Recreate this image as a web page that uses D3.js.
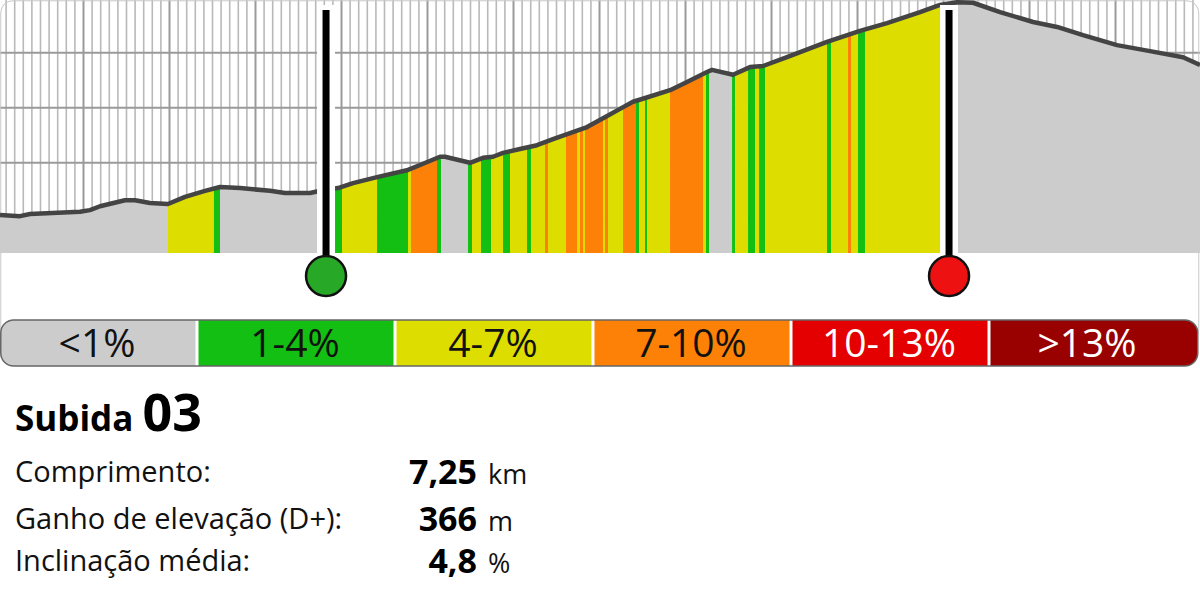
<!DOCTYPE html>
<html>
<head>
<meta charset="utf-8">
<script src="https://cdn.jsdelivr.net/npm/d3@7"></script>
<style>
  html, body { margin: 0; padding: 0; background: #fff; }
  svg { display: block; font-family: 'Open Sans', 'Noto Sans', sans-serif; }
</style>
</head>
<body>
<svg id="chart" width="1200" height="600"></svg>
<script>
'use strict'

// elevation profile, distance in km / elevation in m
const profileKm = [0.035, 0.268, 0.384, 0.965, 1.081, 1.198, 1.488, 1.605, 1.779, 1.988,
  2.186, 2.419, 2.593, 2.826, 3.174, 3.349, 3.640, 3.814, 3.965, 4.140,
  4.419, 4.779, 4.919, 5.151, 5.209, 5.500, 5.651, 5.767, 5.884, 6.081,
  6.279, 6.465, 6.663, 6.861, 7.047, 7.244, 7.395, 7.500, 7.826, 8.023,
  8.256, 8.314, 8.558, 8.756, 8.907, 9.186, 9.651, 10.035, 10.349, 10.733,
  10.965, 11.163, 11.349, 11.663, 12.047, 12.326, 12.628, 13.023, 13.407, 13.791, 13.988]
const profileEle = [604, 602, 606, 610, 613, 620, 631, 631, 626, 624,
  637, 648, 655, 653, 648, 644, 644, 650, 653, 662,
  673, 686, 695, 710, 710, 699, 708, 710, 717, 724,
  731, 742, 753, 764, 780, 797, 810, 815, 831, 846,
  864, 868, 859, 873, 875, 891, 919, 939, 953, 973,
  986, 991, 990, 973, 955, 946, 931, 913, 902, 891, 877]

// gradient stripes: start km and gradient class (index into legend)
const segStartKm = [0.035, 1.988, 2.523, 2.593, 3.814, 4.012, 4.419, 4.779, 4.814, 5.116,
  5.163, 5.477, 5.523, 5.628, 5.744, 5.884, 5.965, 6.163, 6.209, 6.372,
  6.407, 6.616, 6.744, 6.779, 6.814, 6.837, 7.047, 7.070, 7.105, 7.279,
  7.430, 7.465, 7.535, 7.558, 7.826, 8.209, 8.244, 8.279, 8.547, 8.582,
  8.733, 8.814, 8.861, 8.930, 9.651, 9.698, 9.895, 9.930, 10.012, 10.093, 11.070]
const segClass = [0, 2, 1, 0, 1, 2, 1, 2, 3, 1,
  0, 1, 2, 1, 2, 1, 2, 1, 2, 3,
  2, 3, 2, 3, 2, 3, 2, 3, 2, 3,
  1, 2, 1, 2, 3, 2, 1, 0, 1, 2,
  1, 2, 1, 2, 1, 2, 3, 2, 1, 2, 0]

const climbStartKm = 3.826
const climbEndKm = 11.07

const legendLabels = ['<1%', '1-4%', '4-7%', '7-10%', '10-13%', '>13%']
const legendColors = ['#cccccc', '#12bf12', '#dedd00', '#fc8106', '#e40000', '#990000']
const legendText = ['#111', '#111', '#111', '#111', '#fff', '#fff']

const climbName = 'Subida'
const climbNumber = '03'
const statLabels = ['Comprimento:', 'Ganho de elevação (D+):', 'Inclinação média:']
const statValues = ['7,25', '366', '4,8']
const statUnits = ['km', 'm', '%']

const W = 1200
const chartBottom = 253

const svg = d3.select('#chart')

const x = d3.scaleLinear().domain([0.035, 13.988]).range([0, W])
const y = d3.scaleLinear().domain([535, 995]).range([chartBottom, 0])

const pts = profileKm.map((d, i) => [d, profileEle[i]])

// grid
const grid = svg.append('g')
grid.append('g')
  .call(d3.axisTop(x).tickValues(d3.range(1, 140).map(d => d / 10)).tickSize(-chartBottom).tickFormat(''))
  .call(g => g.select('.domain').remove())
  .call(g => g.selectAll('line')
    .attr('stroke', d => Math.abs(d - Math.round(d)) < 1e-6 ? '#9a9a9a' : '#b9b9b9')
    .attr('stroke-width', d => Math.abs(d - Math.round(d)) < 1e-6 ? 2 : 1.6))
grid.append('g')
  .call(d3.axisLeft(y).tickValues([600, 700, 800, 900]).tickSize(-W).tickFormat(''))
  .call(g => g.select('.domain').remove())
  .call(g => g.selectAll('line').attr('stroke', '#9a9a9a').attr('stroke-width', 2))

// card border
svg.append('rect')
  .attr('x', 0.75).attr('y', 0.75).attr('width', W - 2).attr('height', 340)
  .attr('rx', 12).attr('fill', 'none').attr('stroke', '#c8c8c8').attr('stroke-width', 1)

// area clip + stripes
const area = d3.area().x(d => x(d[0])).y0(chartBottom).y1(d => y(d[1]))
svg.append('clipPath').attr('id', 'profile-clip')
  .append('path').attr('d', area(pts))

const segs = segStartKm.map((s, i) => ({
  start: s,
  end: i < segStartKm.length - 1 ? segStartKm[i + 1] : x.domain()[1],
  cls: segClass[i]
}))

svg.append('g').attr('clip-path', 'url(#profile-clip)')
  .selectAll('rect')
  .data(segs)
  .enter()
  .append('rect')
    .attr('x', d => x(d.start))
    .attr('width', d => x(d.end) - x(d.start) + 0.3)
    .attr('y', 0)
    .attr('height', chartBottom)
    .attr('fill', d => legendColors[d.cls])

const line = d3.line().x(d => x(d[0])).y(d => y(d[1]))
svg.append('path')
  .attr('d', line(pts))
  .attr('fill', 'none')
  .attr('stroke', '#444')
  .attr('stroke-width', 4.5)
  .attr('stroke-linejoin', 'round')

// start / end markers
const markers = [
  { km: climbStartKm, color: '#27a827' },
  { km: climbEndKm, color: '#ee1111' }
]
const m = svg.append('g').selectAll('g')
  .data(markers)
  .enter()
  .append('g')
    .attr('transform', d => `translate(${x(d.km)},0)`)
m.append('rect')
  .attr('x', -9).attr('y', 5).attr('width', 18).attr('height', chartBottom - 5)
  .attr('fill', '#fff')
m.append('rect')
  .attr('x', -3.5).attr('y', 10).attr('width', 7).attr('height', 260)
  .attr('fill', '#000')
m.append('circle')
  .attr('cy', 276).attr('r', 20)
  .attr('fill', d => d.color)
  .attr('stroke', '#111').attr('stroke-width', 2.5)

// legend
const legY = 320
const legH = 46
const lx = d3.scaleBand().domain(legendLabels).range([0, 1188])
svg.append('clipPath').attr('id', 'leg-clip')
  .append('rect').attr('x', 0.75).attr('y', legY).attr('width', 1197).attr('height', legH).attr('rx', 13)
const leg = svg.append('g')
leg.append('g').attr('clip-path', 'url(#leg-clip)')
  .selectAll('rect')
  .data(legendLabels)
  .enter()
  .append('rect')
    .attr('x', d => lx(d))
    .attr('y', legY)
    .attr('width', (d, i) => i === legendLabels.length - 1 ? W - lx(d) : lx.bandwidth())
    .attr('height', legH)
    .attr('fill', (d, i) => legendColors[i])
leg.selectAll('line.sep')
  .data(legendLabels.slice(1))
  .enter()
  .append('line')
    .attr('class', 'sep')
    .attr('x1', d => lx(d) - 1).attr('x2', d => lx(d) - 1)
    .attr('y1', legY).attr('y2', legY + legH)
    .attr('stroke', '#fff').attr('stroke-width', 3)
leg.append('rect')
  .attr('x', 0.75).attr('y', legY).attr('width', 1197).attr('height', legH).attr('rx', 13)
  .attr('fill', 'none').attr('stroke', '#666').attr('stroke-width', 1.5)
leg.selectAll('text')
  .data(legendLabels)
  .enter()
  .append('text')
    .attr('x', d => lx(d) + lx.bandwidth() / 2 - 2)
    .attr('y', legY + 37)
    .attr('text-anchor', 'middle')
    .attr('font-size', 39)
    .attr('font-weight', 500)
    .attr('fill', (d, i) => legendText[i])
    .text(d => d)

// stats block
const title = svg.append('text').attr('x', 15).attr('y', 431).attr('fill', '#000').attr('font-weight', 700)
title.append('tspan').attr('font-size', 35).text(climbName)
title.append('tspan').attr('dx', 9).attr('font-size', 52).text(climbNumber)

const rowY = [482, 529, 571]
const st = svg.append('g')
st.selectAll('text.lab')
  .data(statLabels)
  .enter()
  .append('text')
    .attr('class', 'lab')
    .attr('x', 15).attr('y', (d, i) => rowY[i])
    .attr('font-size', 29)
    .attr('fill', '#111')
    .text(d => d)
st.selectAll('text.val')
  .data(statValues)
  .enter()
  .append('text')
    .attr('class', 'val')
    .attr('x', 477).attr('y', (d, i) => rowY[i] + 2)
    .attr('text-anchor', 'end')
    .attr('font-size', 34).attr('font-weight', 700)
    .attr('fill', '#000')
    .text(d => d)
st.selectAll('text.unit')
  .data(statUnits)
  .enter()
  .append('text')
    .attr('class', 'unit')
    .attr('x', 488).attr('y', (d, i) => rowY[i] + 2)
    .attr('font-size', 27)
    .attr('fill', '#111')
    .text(d => d)
</script>
</body>
</html>
